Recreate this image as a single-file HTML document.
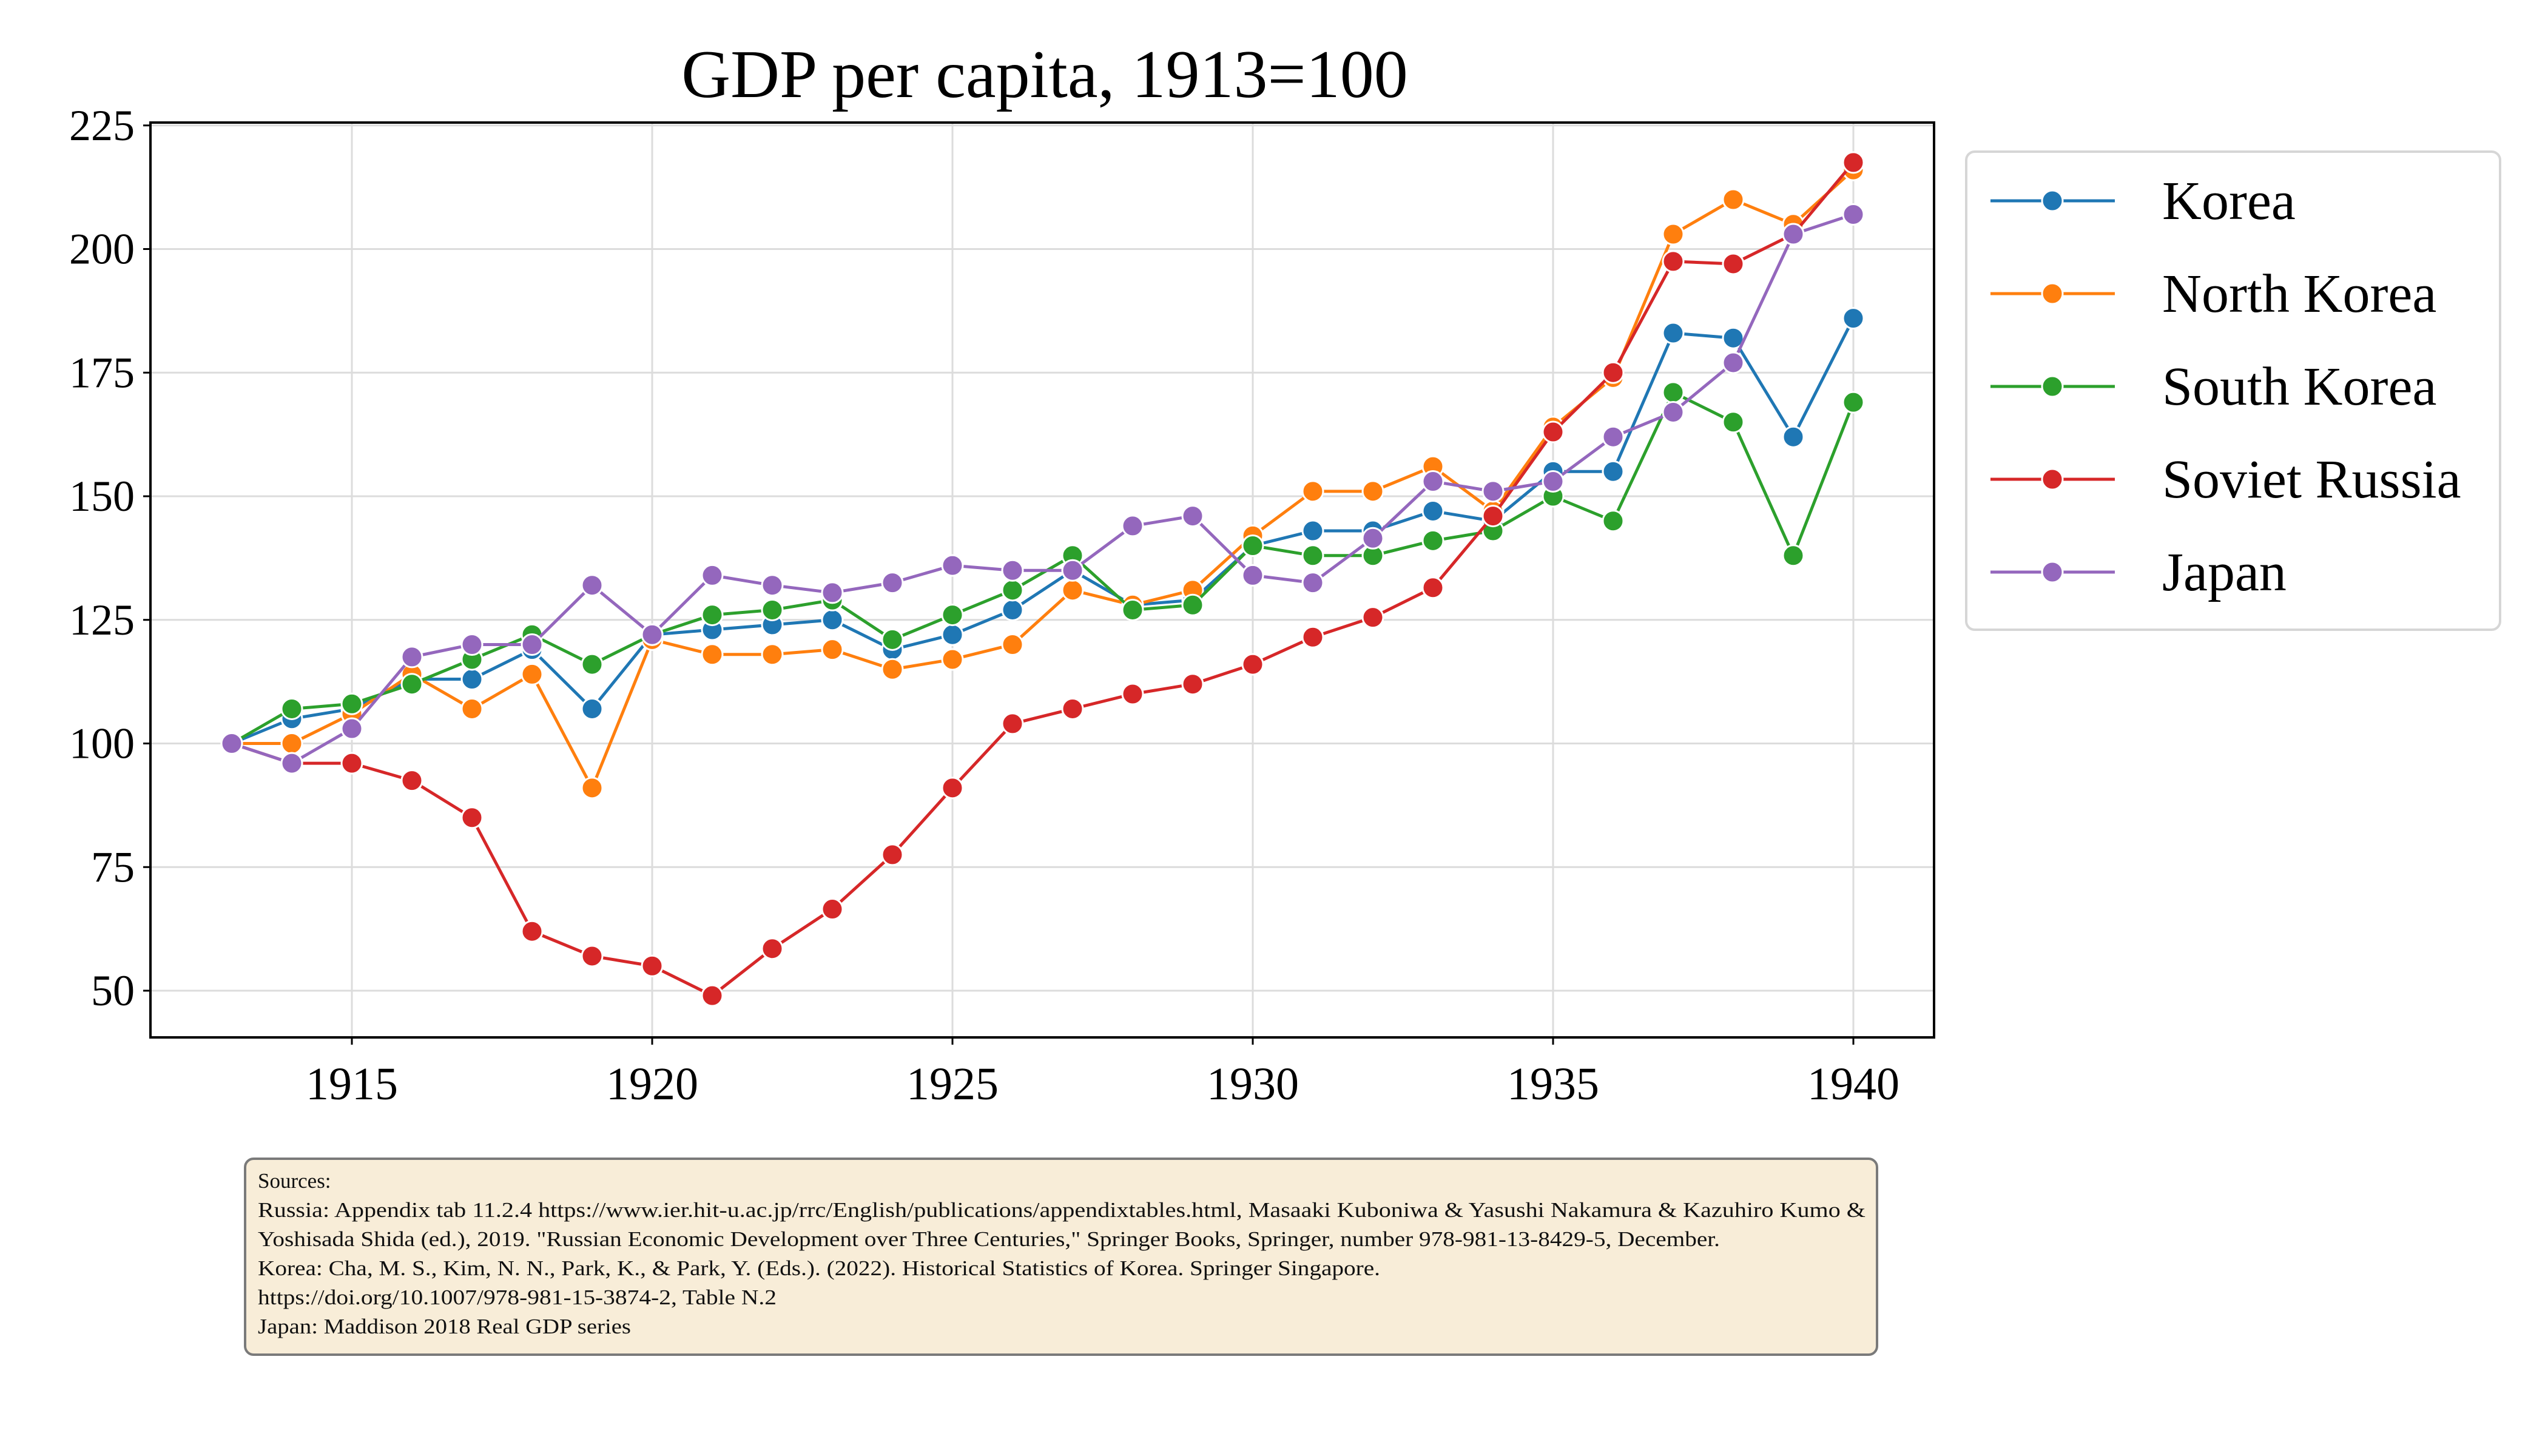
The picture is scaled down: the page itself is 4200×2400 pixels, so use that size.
<!DOCTYPE html>
<html><head><meta charset="utf-8"><style>
html,body{margin:0;padding:0;background:#fff;}
svg{display:block;font-family:"Liberation Serif",serif;}
</style></head><body>
<svg id="chart" width="4200" height="2400" viewBox="0 0 4200 2400" xmlns="http://www.w3.org/2000/svg">
<text x="1722" y="160" font-size="112" text-anchor="middle">GDP per capita, 1913=100</text>
<g id="grid"></g>
<g id="series"></g>
<rect x="248" y="202" width="2940" height="1508" fill="none" stroke="#000" stroke-width="4"/>
<g id="axes"></g>
<g id="legend">
<rect x="3241" y="250" width="880" height="788" rx="14" fill="#fff" stroke="#d6d6d6" stroke-width="4"/>
</g>
<g>
<rect x="404" y="1910" width="2690" height="323" rx="14" fill="#f8edd8" stroke="#7a7a7a" stroke-width="4"/>
<text font-size="35" fill="#111">
<tspan x="425" y="1958">Sources:</tspan>
<tspan x="425" y="2006" textLength="2650" lengthAdjust="spacingAndGlyphs">Russia: Appendix tab 11.2.4 https://www.ier.hit-u.ac.jp/rrc/English/publications/appendixtables.html, Masaaki Kuboniwa &amp; Yasushi Nakamura &amp; Kazuhiro Kumo &amp;</tspan>
<tspan x="425" y="2054" textLength="2410" lengthAdjust="spacingAndGlyphs">Yoshisada Shida (ed.), 2019. "Russian Economic Development over Three Centuries," Springer Books, Springer, number 978-981-13-8429-5, December.</tspan>
<tspan x="425" y="2102" textLength="1850" lengthAdjust="spacingAndGlyphs">Korea: Cha, M. S., Kim, N. N., Park, K., &amp; Park, Y. (Eds.). (2022). Historical Statistics of Korea. Springer Singapore.</tspan>
<tspan x="425" y="2150" textLength="855" lengthAdjust="spacingAndGlyphs">https://doi.org/10.1007/978-981-15-3874-2, Table N.2</tspan>
<tspan x="425" y="2198" textLength="615" lengthAdjust="spacingAndGlyphs">Japan: Maddison 2018 Real GDP series</tspan>
</text>
</g>
</svg>
<script>
const years = [1913,1914,1915,1916,1917,1918,1919,1920,1921,1922,1923,1924,1925,1926,1927,1928,1929,1930,1931,1932,1933,1934,1935,1936,1937,1938,1939,1940];
const korea = [100,105,107,113,113,119,107,122,123,124,125,119,122,127,135,128,129,140,143,143,147,145,155,155,183,182,162,186];
const northKorea = [100,100,106,114,107,114,91,121,118,118,119,115,117,120,131,128,131,142,151,151,156,147,164,174,203,210,205,216];
const southKorea = [100,107,108,112,117,122,116,122,126,127,129,121,126,131,138,127,128,140,138,138,141,143,150,145,171,165,138,169];
const sovietRussia = [100,96,96,92.5,85,62,57,55,49,58.5,66.5,77.5,91,104,107,110,112,116,121.5,125.5,131.5,146,163,175,197.5,197,203,217.5];
const japan = [100,96,103,117.5,120,120,132,122,134,132,130.5,132.5,136,135,135,144,146,134,132.5,141.5,153,151,153,162,167,177,203,207];
const seriesNames = ["Korea","North Korea","South Korea","Soviet Russia","Japan"];
const yTicks = [50,75,100,125,150,175,200,225];
const xTicks = [1915,1920,1925,1930,1935,1940];

const colors = ["#1f77b4","#ff7f0e","#2ca02c","#d62728","#9467bd"];
const allSeries = [korea,northKorea,southKorea,sovietRussia,japan];
const NS = "http://www.w3.org/2000/svg";
function xs(yr){return 580 + (yr-1915)*99.0;}
function ys(v){return 1633 - (v-50)*8.15;}
function mk(tag,attrs,parent){const e=document.createElementNS(NS,tag);for(const k in attrs)e.setAttribute(k,attrs[k]);parent.appendChild(e);return e;}
const grid=document.getElementById('grid'), axes=document.getElementById('axes'), sg=document.getElementById('series'), lg=document.getElementById('legend');
yTicks.forEach(t=>{
  const l=mk('line',{x1:248,x2:3188,y1:ys(t),y2:ys(t),stroke:'#dcdcdc','stroke-width':3},grid);
  
  
  mk('line',{x1:236,x2:248,y1:ys(t),y2:ys(t),stroke:'#000','stroke-width':3},axes);
  const tx=mk('text',{x:222,y:ys(t)+24,'font-size':72,'text-anchor':'end'},axes);
  tx.textContent=t;
  
  
});
xTicks.forEach(t=>{
  const l=mk('line',{x1:xs(t),x2:xs(t),y1:202,y2:1710,stroke:'#dcdcdc','stroke-width':3},grid);
  
  
  mk('line',{x1:xs(t),x2:xs(t),y1:1710,y2:1722,stroke:'#000','stroke-width':3},axes);
  const tx=mk('text',{x:xs(t),y:1812,'font-size':76,'text-anchor':'middle'},axes);
  tx.textContent=t;
  
  
});
allSeries.forEach((vals,i)=>{
  const g=mk('g',{},sg);
  
  
  const pts=vals.map((v,j)=>xs(years[j])+','+ys(v)).join(' ');
  const pl=mk('polyline',{points:pts,fill:'none',stroke:colors[i],'stroke-width':5,'stroke-linejoin':'round'},g);
  
  
  vals.forEach((v,j)=>{
    const c=mk('circle',{cx:xs(years[j]),cy:ys(v),r:17,fill:colors[i],stroke:'#fff','stroke-width':3},g);
    
    
  });
  const ly=331+i*153;
  const e=mk('g',{},lg);
  
  
  mk('line',{x1:3281,x2:3486,y1:ly,y2:ly,stroke:colors[i],'stroke-width':5},e);
  mk('circle',{cx:3383,cy:ly,r:17,fill:colors[i],stroke:'#fff','stroke-width':3},e);
  const t=mk('text',{x:3564,y:ly+30,'font-size':90},e);
  t.textContent=seriesNames[i];
});
</script>
</body></html>
